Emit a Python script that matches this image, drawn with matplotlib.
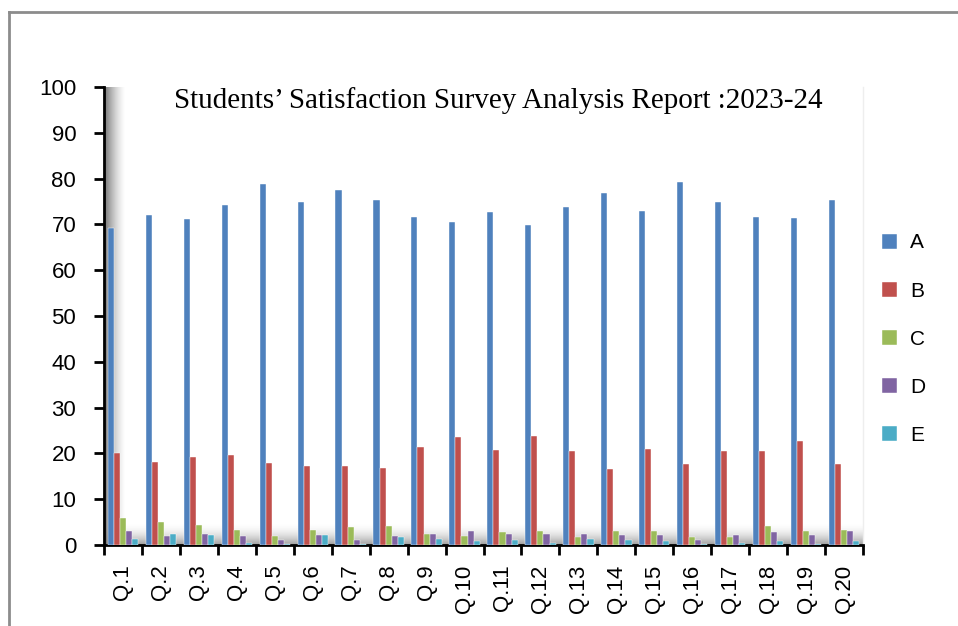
import matplotlib.pyplot as plt
from matplotlib.lines import Line2D
import numpy as np

questions = ["Q.%d" % i for i in range(1, 21)]
series_names = ["A", "B", "C", "D", "E"]
colors = ["#4F81BD", "#C0504D", "#9BBB59", "#8064A2", "#4BACC6"]

vals_a = [69.2, 72.0, 71.1, 74.2, 78.8, 74.9, 77.6, 75.4, 71.6, 70.6,
          72.6, 69.8, 73.7, 76.8, 72.9, 79.3, 74.8, 71.6, 71.4, 75.4]
vals_b = [20.1, 18.2, 19.3, 19.6, 17.9, 17.3, 17.3, 16.8, 21.5, 23.5,
          20.7, 23.8, 20.6, 16.7, 20.9, 17.6, 20.6, 20.6, 22.6, 17.6]
vals_c = [5.8, 5.0, 4.4, 3.3, 2.0, 3.3, 3.9, 4.1, 2.5, 1.9,
          2.8, 3.1, 1.7, 3.1, 3.1, 1.7, 1.7, 4.1, 3.1, 3.3]
vals_d = [3.1, 1.9, 2.5, 1.9, 1.2, 2.2, 1.1, 1.9, 2.5, 3.1,
          2.5, 2.5, 2.5, 2.2, 2.2, 1.1, 2.2, 2.8, 2.2, 3.1]
vals_e = [1.3, 2.5, 2.2, 0.5, 0.2, 2.2, 0.3, 1.7, 1.4, 0.8,
          1.1, 0.5, 1.4, 1.1, 0.8, 0.2, 0.5, 0.8, 0.3, 0.8]
all_vals = [vals_a, vals_b, vals_c, vals_d, vals_e]

fig = plt.figure(figsize=(9.58, 6.26), dpi=100)
ax = fig.add_axes([104 / 958, 81 / 626, 759 / 958, 458 / 626])

x = np.arange(len(questions))
w = 0.16
for i, (name, vals) in enumerate(zip(series_names, all_vals)):
    ax.bar(x + (i - 2) * w, vals, w, color=colors[i], label=name, zorder=3,
           edgecolor="white", linewidth=0.3)

# excel-like shading on the wall and floor
grad = np.linspace(1, 0, 64)
left = np.zeros((2, 64, 4))
left[..., :3] = 0.45
left[..., 3] = grad ** 1.5
ax.imshow(left, extent=[0, 0.028, 0, 1], transform=ax.transAxes,
          aspect="auto", zorder=1)
bottom = np.zeros((64, 2, 4))
bottom[..., :3] = 0.45
bottom[..., 3] = (grad[::-1] ** 2)[:, None] * 0.7
ax.imshow(bottom, extent=[0, 1, 0, 0.05], transform=ax.transAxes,
          aspect="auto", zorder=1)

ax.set_xlim(-0.5, 19.5)
ax.set_ylim(0, 100)
ax.set_yticks(range(0, 101, 10))
ax.set_xticks(x)
ax.set_xticklabels(questions, rotation=90, fontsize=16, family="Liberation Sans")
ax.set_xticks(np.arange(-0.5, 20, 1), minor=True)
ax.tick_params(axis="x", which="major", length=0, pad=14)
ax.tick_params(axis="x", which="minor", length=7, width=2, direction="out")
ax.tick_params(axis="y", length=7, width=2, pad=13, labelsize=16)
for lab in ax.get_yticklabels():
    lab.set_family("Liberation Sans")

ax.spines["top"].set_visible(False)
ax.spines["right"].set_color("#eeeeee")
ax.spines["right"].set_linewidth(1)
ax.spines["left"].set_linewidth(2)
ax.spines["bottom"].set_linewidth(2)

ax.text(0.52, 0.97, "Students\u2019 Satisfaction Survey Analysis Report :2023-24",
        transform=ax.transAxes, ha="center", va="center", fontsize=21,
        family="Liberation Serif", zorder=5)

ax.legend(loc="center left", bbox_to_anchor=(863 / 958, 0.458),
          bbox_transform=fig.transFigure, frameon=False,
          handlelength=0.75, handleheight=0.75, labelspacing=1.4,
          handletextpad=0.6, prop={"family": "Liberation Sans", "size": 15})

# outer frame of the screenshot
fig.add_artist(Line2D([9 / 958, 1], [1 - 12 / 626, 1 - 12 / 626],
                      transform=fig.transFigure, color="#8c8c8c", lw=2))
fig.add_artist(Line2D([9 / 958, 9 / 958], [0, 1 - 12 / 626],
                      transform=fig.transFigure, color="#8c8c8c", lw=2))

fig.savefig("out.png", dpi=100)
